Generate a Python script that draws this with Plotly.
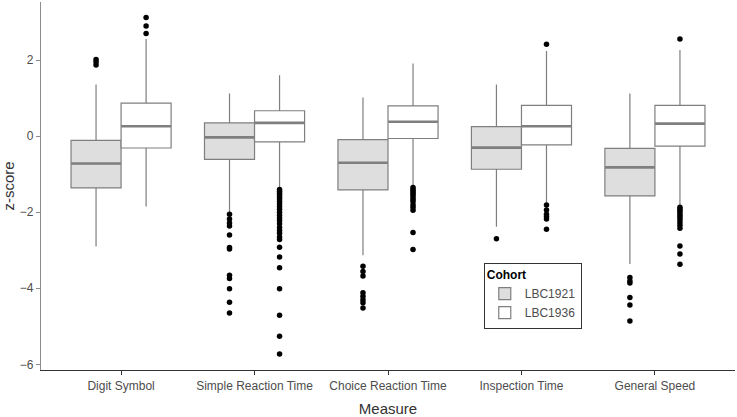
import plotly.graph_objects as go

measures = ["Digit Symbol", "Simple Reaction Time", "Choice Reaction Time",
            "Inspection Time", "General Speed"]
cohorts = ["LBC1921", "LBC1936"]

# box statistics per measure: lower whisker, q1, median, q3, upper whisker
lbc1921_low = [-2.90, -2.00, -3.13, -2.38, -3.36]
lbc1921_q1 = [-1.36, -0.61, -1.41, -0.87, -1.57]
lbc1921_med = [-0.72, -0.03, -0.70, -0.30, -0.82]
lbc1921_q3 = [-0.11, 0.35, -0.09, 0.25, -0.32]
lbc1921_high = [1.36, 1.12, 1.02, 1.36, 1.12]

lbc1936_low = [-1.85, -1.35, -1.30, -1.77, -1.83]
lbc1936_q1 = [-0.31, -0.15, -0.06, -0.23, -0.26]
lbc1936_med = [0.26, 0.35, 0.38, 0.26, 0.33]
lbc1936_q3 = [0.87, 0.67, 0.80, 0.81, 0.81]
lbc1936_high = [2.56, 1.60, 1.91, 2.24, 2.27]

# outliers per measure
lbc1921_out = [
    [2.02, 1.95, 1.87],
    [-2.05, -2.18, -2.28, -2.36, -2.60, -2.93, -2.97, -3.66, -3.74, -4.01, -4.37, -4.65],
    [-3.42, -3.56, -3.68, -4.12, -4.21, -4.30, -4.38, -4.52],
    [-2.70],
    [-3.72, -3.81, -3.86, -4.24, -4.44, -4.86],
]
lbc1936_out = [
    [3.12, 2.90, 2.70],
    [-1.40, -1.45, -1.50, -1.55, -1.60, -1.65, -1.72, -1.78, -1.85, -1.92,
     -2.00, -2.08, -2.15, -2.22, -2.30, -2.40, -2.48, -2.55, -2.65, -2.72,
     -2.92, -3.18, -3.46, -4.01, -4.71, -5.26, -5.73],
    [-1.35, -1.40, -1.45, -1.50, -1.55, -1.60, -1.66, -1.72, -1.80, -1.87,
     -1.95, -2.53, -2.98],
    [2.42, -1.81, -1.94, -2.05, -2.11, -2.18, -2.45],
    [2.56, -1.87, -1.92, -1.97, -2.02, -2.08, -2.14, -2.20, -2.27, -2.34,
     -2.42, -2.89, -3.10, -3.37],
]

fills = ["#DEDEDE", "#FFFFFF"]
line_col = "#7F7F7F"
tick_col = "#4D4D4D"
half = 0.1875
box_w = 0.375

stats = [
    (lbc1921_low, lbc1921_q1, lbc1921_med, lbc1921_q3, lbc1921_high, lbc1921_out),
    (lbc1936_low, lbc1936_q1, lbc1936_med, lbc1936_q3, lbc1936_high, lbc1936_out),
]

fig = go.Figure()
pos = list(range(1, len(measures) + 1))

for k, (name, (lo, q1, med, q3, hi, outs)) in enumerate(zip(cohorts, stats)):
    shift = -half if k == 0 else half
    xs = [p + shift for p in pos]
    fig.add_trace(go.Box(
        x=xs, q1=q1, median=med, q3=q3, lowerfence=lo, upperfence=hi,
        name=name, width=box_w, whiskerwidth=0, fillcolor=fills[k],
        line=dict(color=line_col, width=1.2), boxpoints=False,
        hoverinfo="skip",
    ))
    # thicker median line like ggplot
    fig.add_trace(go.Scatter(
        x=xs, y=med, mode="markers", showlegend=False, hoverinfo="skip",
        marker=dict(symbol="line-ew", size=35.5,
                    line=dict(color=line_col, width=2.6)),
    ))
    ox, oy = [], []
    for p, vals in zip(xs, outs):
        ox += [p] * len(vals)
        oy += vals
    fig.add_trace(go.Scatter(
        x=ox, y=oy, mode="markers", showlegend=False, hoverinfo="skip",
        marker=dict(color="black", size=5.5),
    ))

fig.update_layout(
    width=737, height=417,
    margin=dict(l=41, r=2, t=2, b=45),
    plot_bgcolor="white", paper_bgcolor="white",
    font=dict(family="Liberation Sans, Arial, sans-serif", color=tick_col, size=12),
    legend=dict(
        title=dict(text="<b>Cohort</b>", font=dict(color="black", size=12)),
        x=0.638, y=0.292, xanchor="left", yanchor="top",
        bordercolor="#333333", borderwidth=1, bgcolor="white",
        font=dict(color=tick_col, size=12),
        itemwidth=30, tracegroupgap=0,
    ),
)
fig.update_xaxes(
    range=[0.4, 5.6], tickvals=pos, ticktext=measures,
    tickfont=dict(color=tick_col, size=12),
    showgrid=False, zeroline=False, showline=True, linecolor="#333333", linewidth=1.2,
    ticks="outside", ticklen=4, tickcolor="#333333",
    title=dict(text="Measure", font=dict(size=15, color="#333333"), standoff=12),
)
fig.update_yaxes(
    range=[-6.15, 3.53], tickvals=[-6, -4, -2, 0, 2],
    tickfont=dict(color=tick_col, size=12),
    showgrid=False, zeroline=False, showline=True, linecolor="#8C8C8C", linewidth=1.2,
    ticks="outside", ticklen=4, tickcolor="#8C8C8C",
    title=dict(text="z-score", font=dict(size=15, color="#333333"), standoff=6),
)

fig.write_html("out.html", config={"displayModeBar": False},
               post_script="document.body.style.margin='0';")
